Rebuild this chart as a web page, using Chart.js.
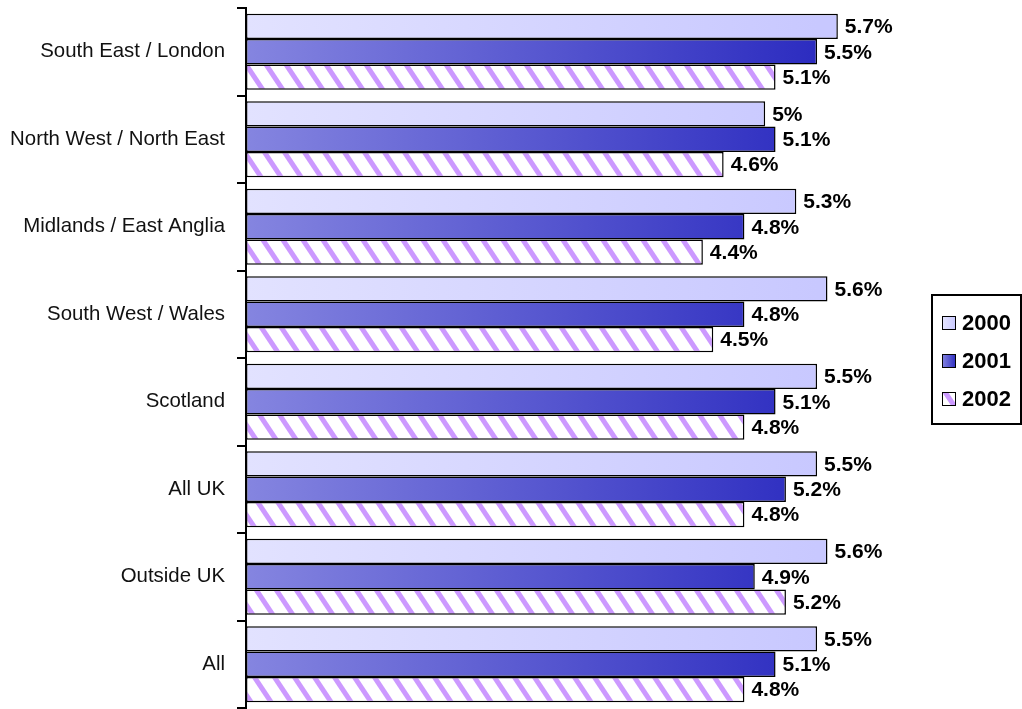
<!DOCTYPE html>
<html lang="en">
  <head>
    <meta charset="UTF-8" />
    <title>Regional rates 2000-2002</title>
    <script src="https://cdn.jsdelivr.net/npm/chart.js@4.4.0/dist/chart.umd.min.js"></script>
    <style>
      html, body { margin: 0; padding: 0; background: #fff; }
      #wrap { width: 1022px; height: 709px; }
    </style>
  </head>
  <body>
    <div id="wrap"><canvas id="myChart" width="1022" height="709"></canvas></div>
    <script>
      const regions = [
        "South East / London",
        "North West / North East",
        "Midlands / East Anglia",
        "South West / Wales",
        "Scotland",
        "All UK",
        "Outside UK",
        "All",
      ];
      const years = ["2000", "2001", "2002"];
      const values2000 = [5.7, 5.0, 5.3, 5.6, 5.5, 5.5, 5.6, 5.5];
      const values2001 = [5.5, 5.1, 4.8, 4.8, 5.1, 5.2, 4.9, 5.1];
      const values2002 = [5.1, 4.6, 4.4, 4.5, 4.8, 4.8, 5.2, 4.8];

      const FONT = "'Liberation Sans', Arial, sans-serif";

      // diagonal purple hatch like the original fill
      function makeHatch(ctx) {
        const c = document.createElement("canvas");
        c.width = 20;
        c.height = 30;
        const g = c.getContext("2d");
        g.fillStyle = "#fff";
        g.fillRect(0, 0, 20, 30);
        g.fillStyle = "#cc99ff";
        [-20, 0, 20].forEach((x0) => {
          g.beginPath();
          g.moveTo(x0, 0);
          g.lineTo(x0 + 6, 0);
          g.lineTo(x0 + 26, 30);
          g.lineTo(x0 + 20, 30);
          g.closePath();
          g.fill();
        });
        return ctx.createPattern(c, "repeat");
      }

      function grad(chart, from, to) {
        const area = chart.chartArea;
        if (!area) return from;
        const x1 = chart.scales.x.getPixelForValue(5.5);
        const g = chart.ctx.createLinearGradient(area.left, 0, x1, 0);
        g.addColorStop(0, from);
        g.addColorStop(1, to);
        return g;
      }

      const lightFill = (c) => grad(c.chart, "#e2e2ff", "#c8c8ff");
      const blueFill = (c) => grad(c.chart, "#8585e0", "#2c2cc0");

      const ctx = document.getElementById("myChart").getContext("2d");
      const hatch = makeHatch(ctx);

      const valueLabels = {
        id: "valueLabels",
        afterDatasetsDraw(chart) {
          const c = chart.ctx;
          c.save();
          c.font = "bold 21px " + FONT;
          c.fillStyle = "#000";
          c.textBaseline = "middle";
          c.textAlign = "left";
          chart.data.datasets.forEach((ds, i) => {
            chart.getDatasetMeta(i).data.forEach((bar, j) => {
              c.fillText(ds.data[j] + "%", bar.x + 7, bar.y + 1);
            });
          });
          c.restore();
        },
      };

      const boxLegend = {
        id: "boxLegend",
        afterDraw(chart) {
          const c = chart.ctx;
          c.save();
          c.strokeStyle = "#000";
          c.lineWidth = 2;
          c.strokeRect(932, 295, 89, 129);
          c.font = "bold 22px " + FONT;
          c.textBaseline = "middle";
          years.forEach((y, i) => {
            const cy = 323 + i * 38;
            c.save();
            c.translate(942, cy - 7);
            if (i < 2) {
              const g = c.createLinearGradient(0, 0, 14, 0);
              g.addColorStop(0, i === 0 ? "#e6e6ff" : "#8585e0");
              g.addColorStop(1, i === 0 ? "#c8c8ff" : "#2c2cc0");
              c.fillStyle = g;
            } else {
              c.fillStyle = hatch;
            }
            c.fillRect(0, 0, 14, 14);
            c.lineWidth = 1;
            c.strokeRect(0.5, 0.5, 13, 13);
            c.restore();
            c.fillStyle = "#000";
            c.fillText(y, 962, cy + 1);
          });
          c.restore();
        },
      };

      new Chart(ctx, {
        type: "bar",
        data: {
          labels: regions,
          datasets: [
            { label: years[0], data: values2000, backgroundColor: lightFill },
            { label: years[1], data: values2001, backgroundColor: blueFill },
            { label: years[2], data: values2002, backgroundColor: hatch },
          ],
        },
        options: {
          indexAxis: "y",
          responsive: false,
          animation: false,
          layout: { padding: { top: 8, bottom: 1, right: 153, left: 0 } },
          datasets: {
            bar: {
              categoryPercentage: 0.87,
              barPercentage: 1,
              borderColor: "#000",
              borderWidth: 1.5,
              borderSkipped: false,
            },
          },
          plugins: {
            legend: { display: false },
            tooltip: { enabled: false },
          },
          scales: {
            x: { display: false, min: 0, max: 6 },
            y: {
              afterFit: (s) => {
                s.width = 246;
                s.paddingTop = 0;
                s.paddingBottom = 0;
              },
              border: { display: true, color: "#000", width: 2 },
              grid: {
                display: true,
                drawOnChartArea: false,
                drawTicks: true,
                tickLength: 9,
                color: "#000",
                lineWidth: 2,
              },
              ticks: {
                padding: 12,
                color: "#111",
                font: { family: FONT, size: 20.4 },
              },
            },
          },
        },
        plugins: [valueLabels, boxLegend],
      });
    </script>
  </body>
</html>
